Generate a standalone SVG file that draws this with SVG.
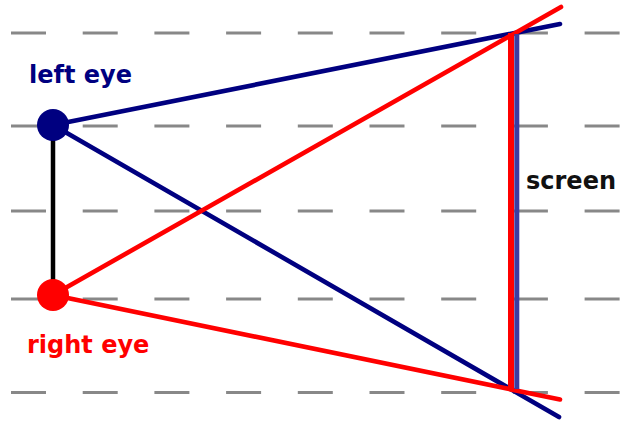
<svg xmlns="http://www.w3.org/2000/svg" width="621" height="422" viewBox="0 0 621 422">
<style>
.grid{stroke:#888;stroke-width:3;stroke-dasharray:35 36.7;fill:none}
.blue{stroke:#000080;stroke-width:4.6;stroke-linecap:round;fill:none}
.red{stroke:#ff0000;stroke-width:4.6;stroke-linecap:round;fill:none}
.lbl{font-family:"DejaVu Sans",sans-serif;font-weight:bold;font-size:24px}
</style>
<rect width="621" height="422" fill="#fff"/>
<g id="grid">
<line class="grid" x1="11" y1="33" x2="621" y2="33"/>
<line class="grid" x1="11" y1="126" x2="621" y2="126"/>
<line class="grid" x1="11" y1="211" x2="621" y2="211"/>
<line class="grid" x1="11" y1="299" x2="621" y2="299"/>
<line class="grid" x1="11" y1="392.5" x2="621" y2="392.5"/>
</g>
<g id="connectors">
<line x1="53" y1="125" x2="53" y2="295" stroke="#000" stroke-width="4.5"/>
<line class="blue" x1="53" y1="125" x2="560" y2="24"/>
<line class="blue" x1="53" y1="125" x2="559" y2="417"/>
<line class="red" x1="53" y1="295" x2="561" y2="7"/>
<line class="red" x1="53" y1="295" x2="560" y2="399.5"/>
</g>
<g id="screen">
<line x1="516.8" y1="34" x2="516.8" y2="389" stroke="#3c3ca0" stroke-width="5"/>
<line x1="511" y1="33" x2="511" y2="389" stroke="#ff0000" stroke-width="6"/>
<text class="lbl" x="526" y="189" fill="#111">screen</text>
</g>
<g id="left-eye">
<circle cx="53" cy="125" r="16" fill="#000080"/>
<text class="lbl" x="29" y="83" fill="#000080">left eye</text>
</g>
<g id="right-eye">
<circle cx="53" cy="295" r="16" fill="#ff0000"/>
<text class="lbl" x="27" y="353" fill="#ff0000">right eye</text>
</g>
</svg>
